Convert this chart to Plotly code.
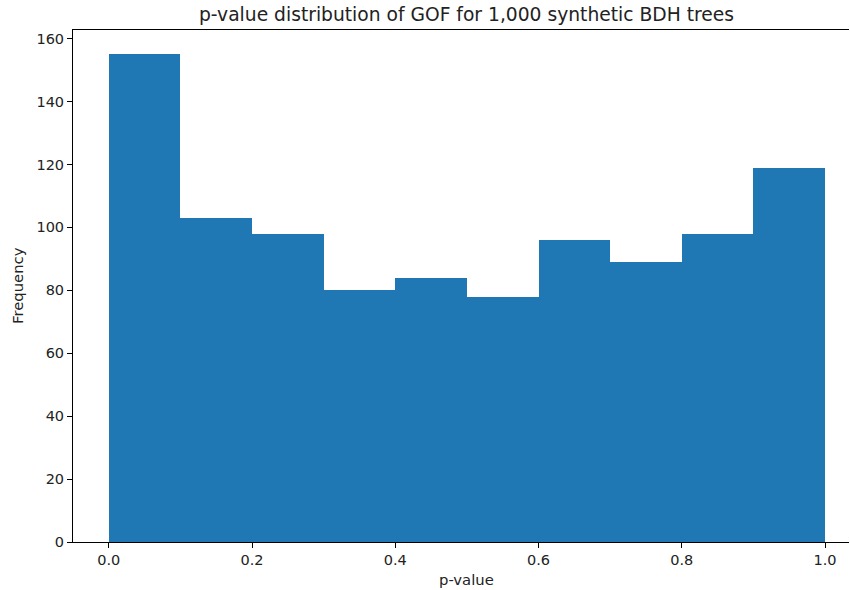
import plotly.graph_objects as go

bin_edges = [0.0, 0.1, 0.2, 0.3, 0.4, 0.5, 0.6, 0.7, 0.8, 0.9, 1.0]
counts = [155, 103, 98, 80, 84, 78, 96, 89, 98, 119]
x_ticks = [0.0, 0.2, 0.4, 0.6, 0.8, 1.0]
x_tick_labels = ["0.0", "0.2", "0.4", "0.6", "0.8", "1.0"]
y_ticks = [0, 20, 40, 60, 80, 100, 120, 140, 160]

centers = [(bin_edges[i] + bin_edges[i + 1]) / 2 for i in range(len(counts))]
widths = [bin_edges[i + 1] - bin_edges[i] for i in range(len(counts))]

font = "DejaVu Sans"
txt = "#222222"

fig = go.Figure()
fig.add_trace(go.Bar(
    x=centers, y=counts, width=widths,
    marker=dict(color="#1f77b4", line=dict(width=0)),
    hoverinfo="x+y",
))

fig.update_layout(
    width=850, height=590,
    margin=dict(l=73, r=1, t=30, b=48),
    paper_bgcolor="white", plot_bgcolor="white",
    font=dict(family=font, size=14.5, color=txt),
    showlegend=False,
    bargap=0,
    xaxis=dict(
        range=[-0.05, 1.0335],
        tickvals=x_ticks, ticktext=x_tick_labels,
        ticks="outside", ticklen=5, tickwidth=1, tickcolor="#000",
        showline=True, linecolor="#000", linewidth=1, mirror=True,
        showgrid=False, zeroline=False,
        tickfont=dict(family=font, size=14.5, color=txt),
    ),
    yaxis=dict(
        range=[0, 162.75],
        tickvals=y_ticks,
        ticks="outside", ticklen=5, tickwidth=1, tickcolor="#000",
        showline=True, linecolor="#000", linewidth=1, mirror=False,
        showgrid=False, zeroline=False,
        tickfont=dict(family=font, size=14.5, color=txt),
    ),
    annotations=[
        dict(text="p-value distribution of GOF for 1,000 synthetic BDH trees",
             x=(466.5 - 73) / 776, y=1, xref="paper", yref="paper",
             xanchor="center", yanchor="middle", showarrow=False,
             font=dict(family=font, size=18.7, color=txt)),
        dict(text="Frequency", x=0, y=0.5, xref="paper", yref="paper",
             xanchor="center", yanchor="middle", textangle=-90, showarrow=False,
             font=dict(family=font, size=14.8, color=txt)),
        dict(text="p-value", x=(466 - 73) / 776, y=0, xref="paper", yref="paper",
             xanchor="center", yanchor="middle", showarrow=False,
             font=dict(family=font, size=14.8, color=txt)),
    ],
)

# position annotations in pixel terms relative to plot area
plot_h = 590 - 30 - 48
fig.layout.annotations[0].y = 1 + (30 - 14) / plot_h
fig.layout.annotations[1].x = -(73 - 17) / 776
fig.layout.annotations[2].y = -(579 - 542) / plot_h

fig.write_html("out.html")
